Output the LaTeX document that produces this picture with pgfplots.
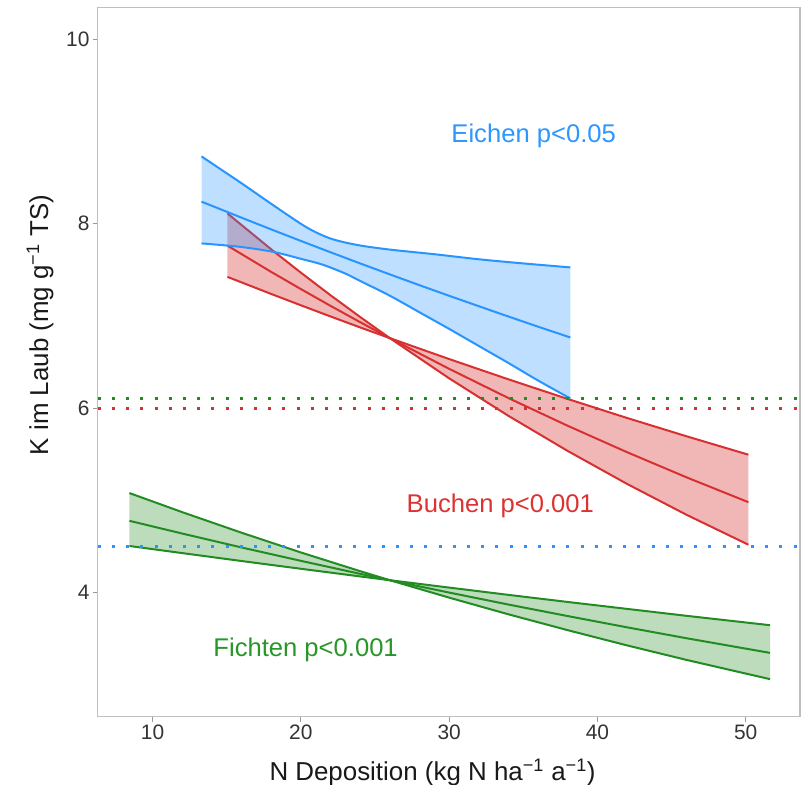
\documentclass[border=0pt]{standalone}
\usepackage{fontspec}
\setmainfont{Liberation Sans}
\usepackage{pgfplots}
\pgfplotsset{compat=1.18}

\definecolor{eiche}{RGB}{40,148,255}
\definecolor{buche}{RGB}{215,48,48}
\definecolor{fichte}{RGB}{34,139,34}
\definecolor{eichetext}{RGB}{45,150,255}
\definecolor{buchetext}{RGB}{220,50,50}
\definecolor{fichtetext}{RGB}{40,150,40}

\begin{document}
\begin{tikzpicture}
\useasboundingbox (0,0) rectangle (801bp,785bp);
\begin{axis}[
  at={(97.7bp,68.3bp)}, anchor=south west,
  scale only axis, width=702.3bp, height=709bp,
  xmin=6.3, xmax=53.66, ymin=2.655, ymax=10.343,
  xtick={10,20,30,40,50}, ytick={4,6,8,10},
  xtick pos=bottom, ytick pos=left,
  axis line style={draw=black!25, line width=1.3bp},
  tick style={draw=black!40, line width=1bp},
  tick align=outside, major tick length=5bp,
  /pgf/number format/assume math mode=true,
  ticklabel style={font=\fontsize{21}{21}\selectfont, text=black!80, inner sep=3bp},
  xlabel={N Deposition (kg N ha\textsuperscript{−1} a\textsuperscript{−1})},
  ylabel={K im Laub (mg g\textsuperscript{−1} TS)},
  label style={font=\fontsize{26}{26}\selectfont, text=black!90},
  xlabel style={at={(axis description cs:0.4767,-0.0893)}, anchor=base},
  ylabel style={at={(axis description cs:-0.082,0.5525)}, anchor=center},
  every axis plot/.append style={line width=2bp},
]

% Fichten: confidence band and fitted curve
\addplot[draw=none, fill=fichte, fill opacity=0.3] coordinates {
  (8.44,5.080) (12,4.873) (16,4.650) (20,4.436) (24,4.233) (26,4.135)
  (30,3.946) (34,3.765) (38,3.593) (42,3.428) (46,3.271) (51.64,3.062)
  (51.64,3.647) (46,3.749) (42,3.824) (38,3.899) (34,3.976) (30,4.055)
  (26,4.135) (24,4.176) (20,4.259) (16,4.343) (12,4.429) (8.44,4.506)
} -- cycle;
\addplot[fichte] coordinates {
  (8.44,5.080) (12,4.873) (16,4.650) (20,4.436) (24,4.233) (26,4.135)
  (30,3.946) (34,3.765) (38,3.593) (42,3.428) (46,3.271) (51.64,3.062)};
\addplot[fichte] coordinates {
  (8.44,4.779) (12,4.641) (16,4.490) (20,4.345) (24,4.204) (26,4.135)
  (30,4.001) (34,3.871) (38,3.746) (42,3.624) (46,3.506) (51.64,3.347)};
\addplot[fichte] coordinates {
  (8.44,4.506) (12,4.429) (16,4.343) (20,4.259) (24,4.176) (26,4.135)
  (30,4.055) (34,3.976) (38,3.899) (42,3.824) (46,3.749) (51.64,3.647)};

% Buchen
\addplot[draw=none, fill=buche, fill opacity=0.35] coordinates {
  (15.05,8.112) (18,7.723) (20,7.470) (22,7.225) (24,6.989) (26,6.760)
  (30,6.324) (34,5.917) (38,5.536) (42,5.179) (46,4.845) (50.18,4.520)
  (50.18,5.496) (46,5.696) (42,5.894) (38,6.100) (34,6.313) (30,6.533)
  (26,6.760) (24,6.876) (22,6.995) (20,7.116) (18,7.239) (15.05,7.424)
} -- cycle;
\addplot[buche] coordinates {
  (15.05,8.112) (18,7.723) (20,7.470) (22,7.225) (24,6.989) (26,6.760)
  (30,6.324) (34,5.917) (38,5.536) (42,5.179) (46,4.845) (50.18,4.520)};
\addplot[buche] coordinates {
  (15.05,7.763) (18,7.478) (20,7.292) (22,7.110) (24,6.933) (26,6.760)
  (30,6.427) (34,6.110) (38,5.809) (42,5.523) (46,5.251) (50.18,4.981)};
\addplot[buche] coordinates {
  (15.05,7.424) (18,7.239) (20,7.116) (22,6.995) (24,6.876) (26,6.760)
  (30,6.533) (34,6.313) (38,6.100) (42,5.894) (46,5.696) (50.18,5.496)};

% Eichen
\addplot[draw=none, fill=eiche, fill opacity=0.3] coordinates {
  (13.3,8.73) (15.9,8.45) (18.15,8.20) (20.4,7.96) (22,7.84) (23.8,7.77)
  (26,7.72) (29,7.67) (32,7.615) (35,7.57) (38.17,7.527)
  (38.17,6.106) (36,6.30) (34,6.49) (32,6.675) (30,6.86) (28,7.04) (26,7.22)
  (24,7.38) (23,7.46) (21.5,7.555) (20,7.62) (18.15,7.695) (15.9,7.75) (13.3,7.787)
} -- cycle;
\addplot[eiche, smooth] coordinates {
  (13.3,8.73) (15.9,8.45) (18.15,8.20) (20.4,7.96) (22,7.84) (23.8,7.77)
  (26,7.72) (29,7.67) (32,7.615) (35,7.57) (38.17,7.527)};
\addplot[eiche] coordinates {
  (13.3,8.240) (16,8.066) (18,7.939) (20,7.814) (22,7.691) (24,7.570)
  (26,7.451) (28,7.334) (30,7.219) (32,7.106) (34,6.994) (36,6.884) (38.17,6.767)};
\addplot[eiche, smooth] coordinates {
  (13.3,7.787) (15.9,7.75) (18.15,7.695) (20,7.62) (21.5,7.555) (23,7.46) (24,7.38)
  (26,7.22) (28,7.04) (30,6.86) (32,6.675) (34,6.49) (36,6.30) (38.17,6.106)};

% reference levels
\addplot[fichte, line width=3bp, dash pattern=on 3bp off 11.2bp] coordinates {(6.3,6.1) (53.66,6.1)};
\addplot[buche, line width=3bp, dash pattern=on 3bp off 11.2bp] coordinates {(6.3,6.0) (53.66,6.0)};
\addplot[eiche, line width=3bp, dash pattern=on 3bp off 11.2bp] coordinates {(6.3,4.5) (53.66,4.5)};

% species labels
\node[anchor=base, text=eichetext, font=\fontsize{25.7}{25.7}\selectfont] at (axis cs:35.7,8.879) {Eichen p<0.05};
\node[anchor=base, text=buchetext, font=\fontsize{25.7}{25.7}\selectfont] at (axis cs:33.45,4.87) {Buchen p<0.001};
\node[anchor=base, text=fichtetext, font=\fontsize{25.7}{25.7}\selectfont] at (axis cs:20.32,3.304) {Fichten p<0.001};
\end{axis}
\end{tikzpicture}
\end{document}
